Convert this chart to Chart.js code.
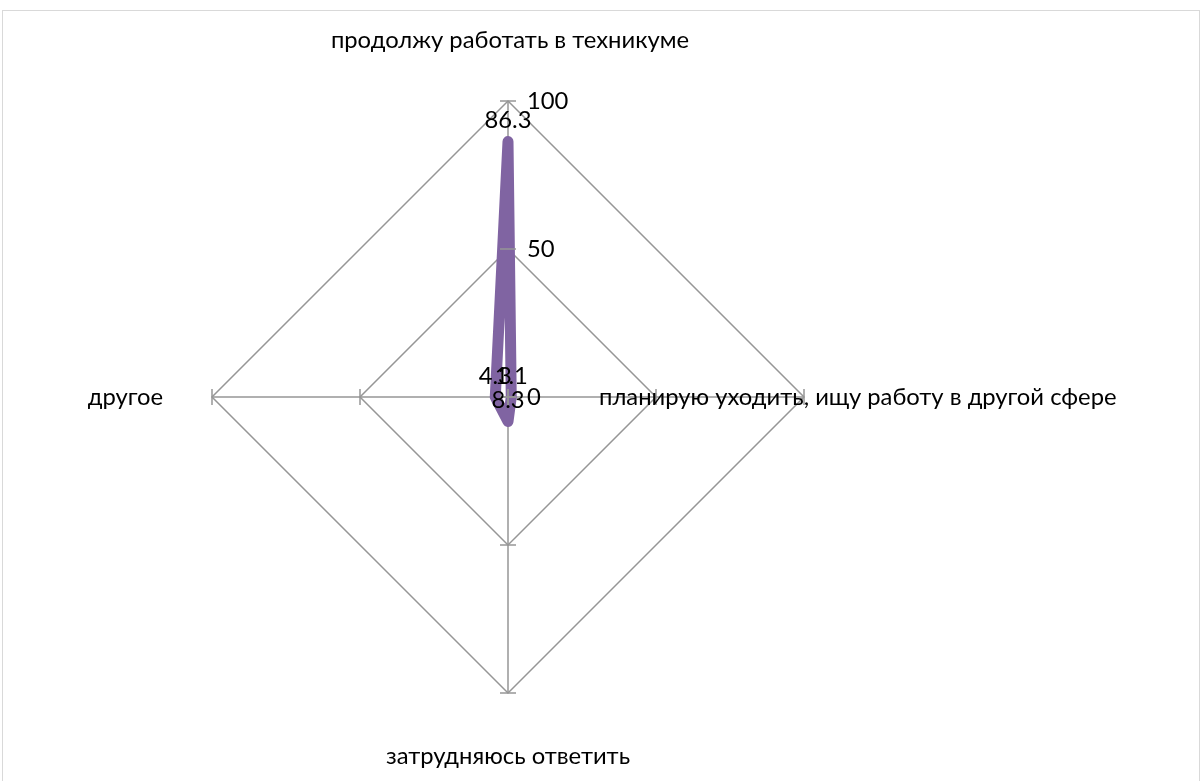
<!DOCTYPE html>
<html>
<head>
<meta charset="utf-8">
<script src="https://cdn.jsdelivr.net/npm/chart.js@4.4.0/dist/chart.umd.min.js"></script>
<style>
  html, body { margin: 0; padding: 0; background: #fff; }
  #wrap { position: relative; width: 1203px; height: 781px; overflow: hidden; }
  #frame { position: absolute; left: 2px; top: 10px; width: 1196px; height: 800px; border: 1px solid #d9d9d9; }
  canvas { position: absolute; left: 0; top: 0; }
</style>
</head>
<body>
<div id="wrap">
  <div id="frame"></div>
  <canvas id="radar" width="1203" height="781"></canvas>
</div>
<script>
// categories and values
const categories = ['продолжу работать в техникуме', 'планирую уходить, ищу работу в другой сфере', 'затрудняюсь ответить', 'другое'];
const values = [86.3, 1.1, 8.3, 4.3];
const tickValues = [0, 50, 100];

const FONT = '23.8px Lato, "Liberation Sans", sans-serif';
const GRID = '#969696';

// tick marks on the axes, tick labels, category names, value labels
const extras = {
  id: 'extras',
  afterDraw(chart) {
    const c = chart.ctx;
    const r = chart.scales.r;
    c.save();
    c.strokeStyle = GRID;
    c.lineWidth = 1.5;
    // little cross ticks on every axis
    for (let i = 0; i < categories.length; i++) {
      const a = r.getIndexAngle(i) - Math.PI / 2;
      const nx = -Math.sin(a), ny = Math.cos(a);
      for (const v of tickValues) {
        const p = r.getPointPositionForValue(i, v);
        c.beginPath();
        c.moveTo(p.x - nx * 8, p.y - ny * 8);
        c.lineTo(p.x + nx * 8, p.y + ny * 8);
        c.stroke();
      }
    }
    c.fillStyle = '#000';
    c.font = FONT;
    c.textBaseline = 'middle';
    c.textAlign = 'left';
    for (const v of tickValues) {
      const p = r.getPointPositionForValue(0, v);
      c.fillText(String(v), p.x + 19, p.y);
    }
    // category names
    const top = r.getPointPositionForValue(0, 100);
    const right = r.getPointPositionForValue(1, 100);
    const bottom = r.getPointPositionForValue(2, 100);
    const left = r.getPointPositionForValue(3, 100);
    c.textAlign = 'center';
    c.fillText(categories[0], top.x + 2, top.y - 61);
    c.fillText(categories[2], bottom.x, bottom.y + 63);
    c.textAlign = 'left';
    c.fillText(categories[1], right.x - 205, right.y);
    c.textAlign = 'right';
    c.fillText(categories[3], left.x - 49, left.y);
    // value labels
    const meta = chart.getDatasetMeta(0);
    c.textAlign = 'center';
    meta.data.forEach((pt, i) => {
      c.fillText(String(values[i]), pt.x, pt.y - 21);
    });
    c.restore();
  }
};

new Chart(document.getElementById('radar'), {
  type: 'radar',
  data: {
    labels: categories,
    datasets: [{
      data: values,
      borderColor: '#8064a2',
      backgroundColor: 'rgba(0,0,0,0)',
      borderWidth: 11,
      borderJoinStyle: 'round',
      borderCapStyle: 'round',
      pointRadius: 0,
      fill: false
    }]
  },
  options: {
    responsive: false,
    animation: false,
    layout: { padding: { left: 0, right: 187, top: 101, bottom: 87 } },
    plugins: { legend: { display: false }, tooltip: { enabled: false } },
    scales: {
      r: {
        min: 0,
        max: 100,
        ticks: { display: false, stepSize: 50, showLabelBackdrop: false },
        pointLabels: { display: false },
        grid: { color: GRID, lineWidth: 1.5 },
        angleLines: { color: GRID, lineWidth: 1.5 }
      }
    }
  },
  plugins: [extras]
});
</script>
</body>
</html>
